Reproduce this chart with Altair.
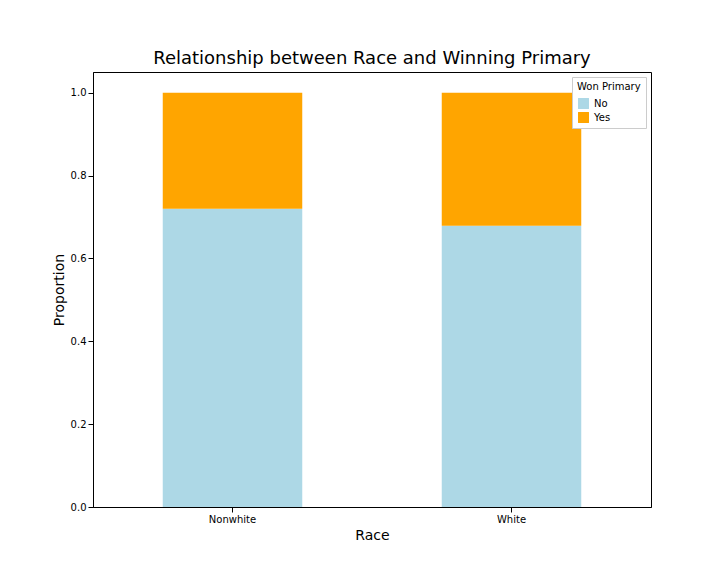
import pandas as pd
import altair as alt

races = ['Nonwhite', 'White']
won = ['No', 'Yes']
prop_no = [0.72, 0.679]
prop_yes = [1 - v for v in prop_no]

rows = []
for i, r in enumerate(races):
    rows.append({'Race': r, 'Won Primary': 'No', 'Proportion': prop_no[i], 'order': 0})
    rows.append({'Race': r, 'Won Primary': 'Yes', 'Proportion': prop_yes[i], 'order': 1})
df = pd.DataFrame(rows)

chart = alt.Chart(df).mark_bar().encode(
    x=alt.X('Race:N', sort=races,
            scale=alt.Scale(paddingInner=0.5, paddingOuter=0.25),
            axis=alt.Axis(labelAngle=0, titleFontSize=14, titleFontWeight='normal',
                          labelFontSize=10, grid=False, domainColor='black', tickColor='black',
                          labelColor='black', titleColor='black')),
    y=alt.Y('Proportion:Q', stack='zero',
            scale=alt.Scale(domain=[0, 1.05], nice=False),
            axis=alt.Axis(values=[0, 0.2, 0.4, 0.6, 0.8, 1.0], format='.1f', grid=False,
                          titleFontSize=14, titleFontWeight='normal', labelFontSize=10,
                          domainColor='black', tickColor='black', labelColor='black',
                          titleColor='black')),
    color=alt.Color('Won Primary:N', sort=won,
                    scale=alt.Scale(domain=won, range=['lightblue', 'orange']),
                    legend=alt.Legend(orient='top-right', symbolType='square', offset=5,
                                      fillColor='white', strokeColor='#cccccc', padding=5,
                                      titleFontWeight='normal', titleFontSize=10,
                                      labelFontSize=10, symbolSize=120)),
    order=alt.Order('order:Q')
).properties(
    width=558, height=435,
    padding={'left': 44, 'top': 42, 'right': 5, 'bottom': 5},
    title=alt.Title('Relationship between Race and Winning Primary', fontSize=18,
                    fontWeight='normal', color='black')
).configure(font='DejaVu Sans').configure_view(stroke='black', strokeWidth=1)

chart.save("out.html", embed_options={"renderer": "svg", "actions": False})
